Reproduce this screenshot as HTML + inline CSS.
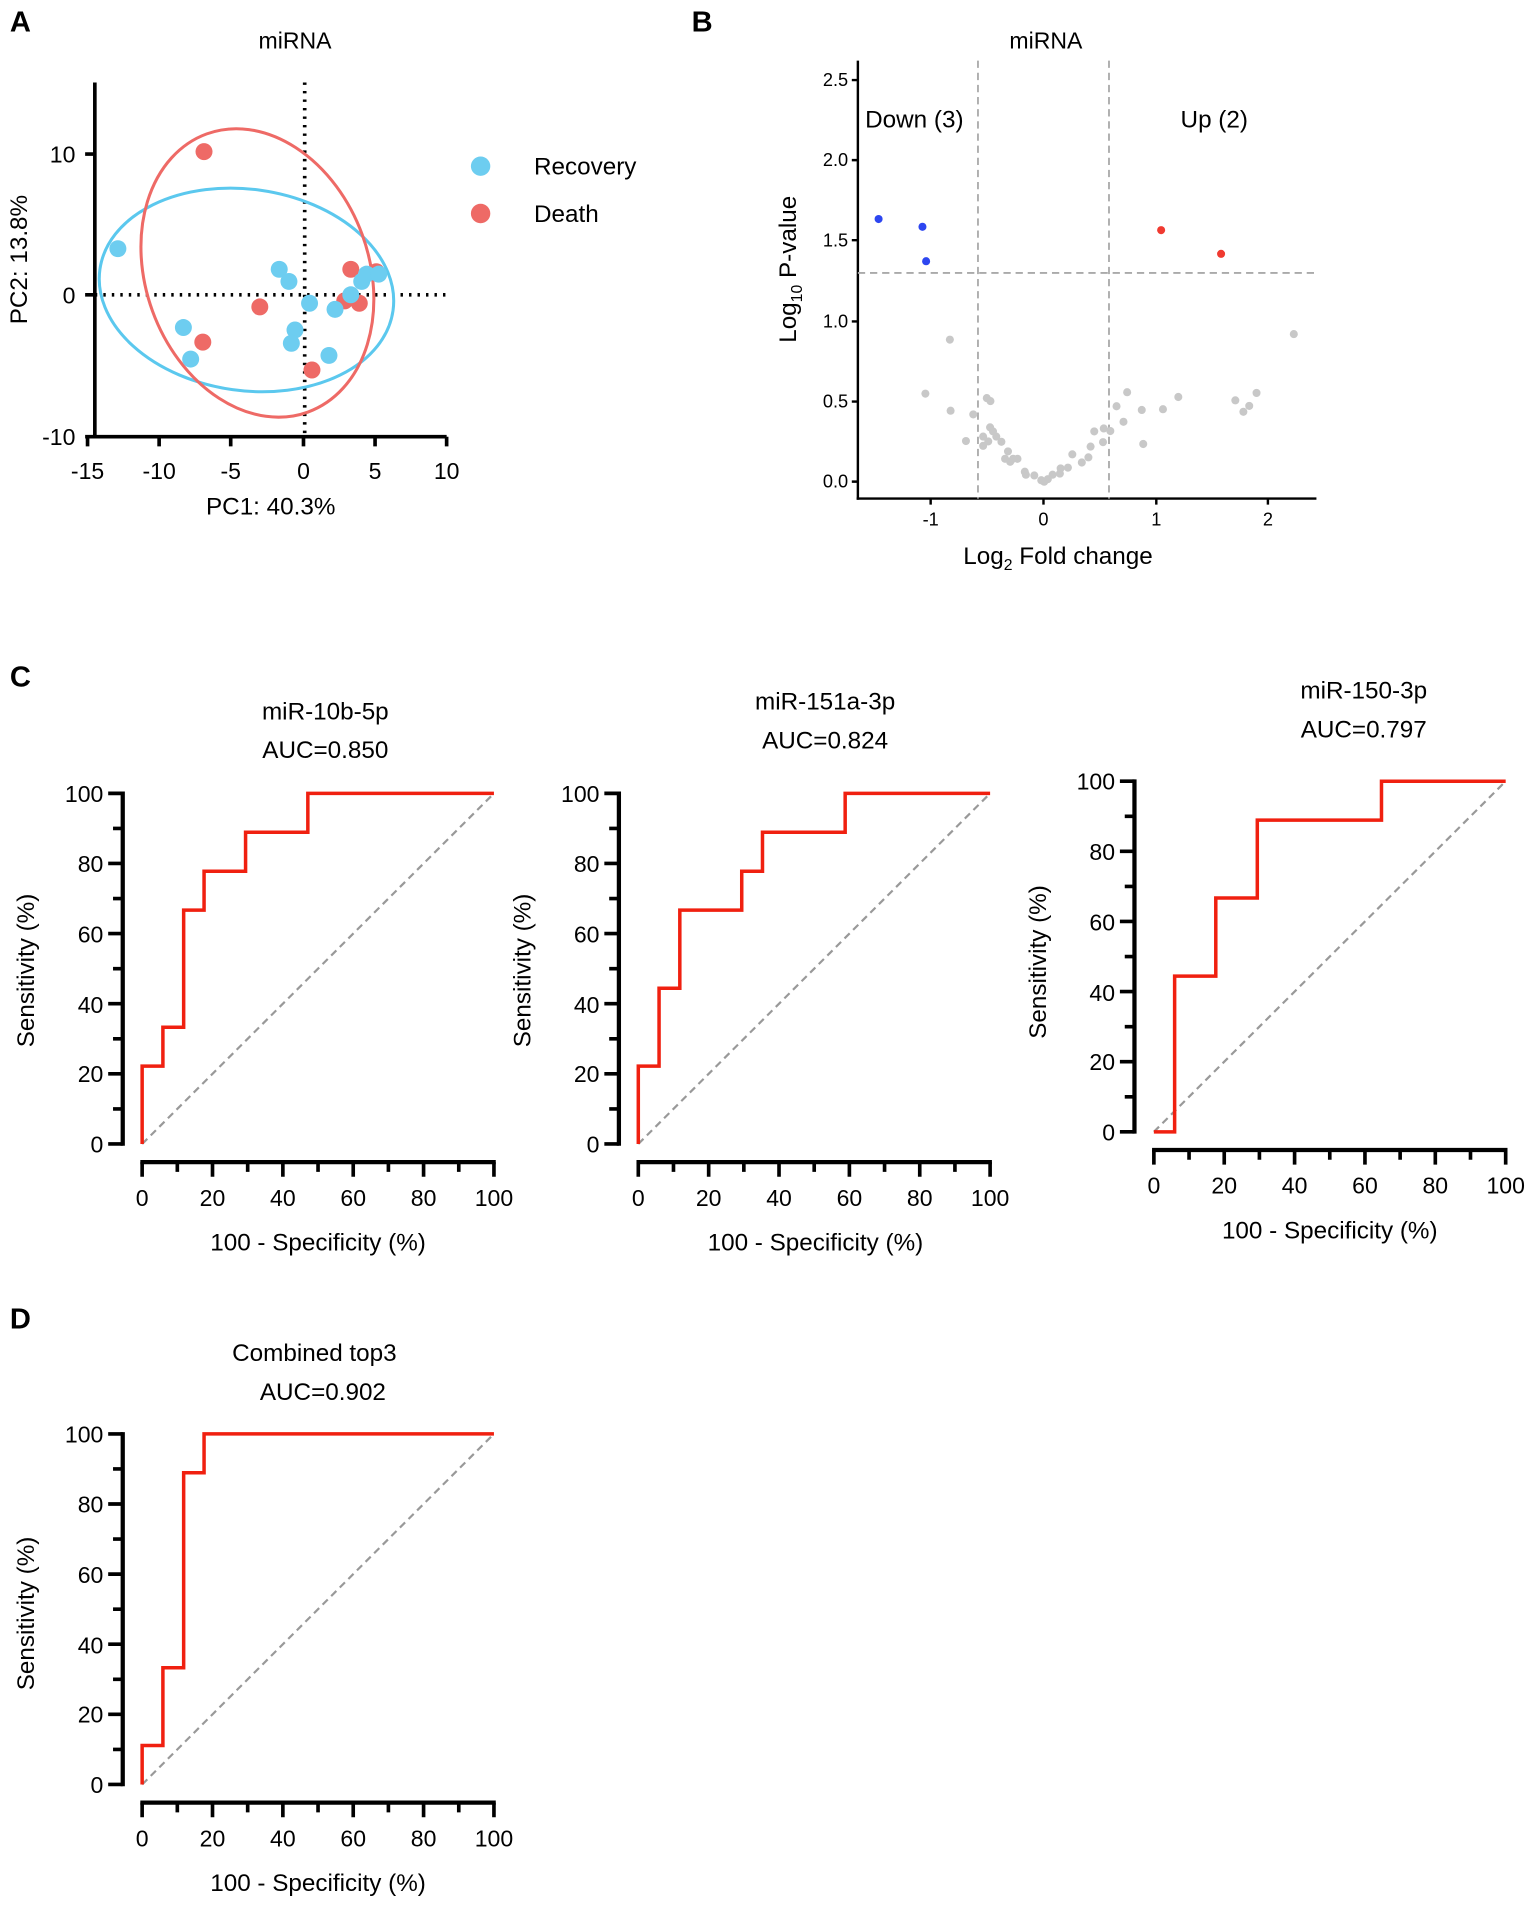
<!DOCTYPE html>
<html><head><meta charset="utf-8"><style>
html,body{margin:0;padding:0;background:#fff}
svg{display:block}
text{font-family:"Liberation Sans",Arial,sans-serif;fill:#000}
</style></head><body>
<svg width="1535" height="1907" viewBox="0 0 1265 1572" xmlns="http://www.w3.org/2000/svg">
<defs>
<g id="ax" stroke="#000" fill="none">
<line x1="-16" y1="1.5" x2="-16" y2="-290.5" stroke-width="3.5"/>
<path stroke-width="3" d="M-28 0H-16M-28 -57.8H-16M-28 -115.6H-16M-28 -173.4H-16M-28 -231.2H-16M-28 -289H-16M-24 -28.9H-16M-24 -86.7H-16M-24 -144.5H-16M-24 -202.3H-16M-24 -260.1H-16"/>
<line x1="-1.5" y1="15" x2="291.5" y2="15" stroke-width="3.5"/>
<path stroke-width="3" d="M0 15V27M58 15V27M116 15V27M174 15V27M232 15V27M290 15V27M29 15V23M87 15V23M145 15V23M203 15V23M261 15V23"/>
<line x1="0" y1="0" x2="290" y2="-289" stroke="#999" stroke-width="1.8" stroke-dasharray="6,4"/>
</g>
</defs>

<text x="8" y="26" font-size="24" font-weight="bold">A</text>
<text x="570" y="26" font-size="24" font-weight="bold">B</text>
<text x="8" y="566" font-size="24" font-weight="bold">C</text>
<text x="8" y="1095" font-size="24" font-weight="bold">D</text>

<!-- Panel A -->
<text x="243" y="40" font-size="19" text-anchor="middle">miRNA</text>
<g stroke="#000" stroke-width="3" fill="none">
<line x1="78" y1="68" x2="78" y2="361"/>
<line x1="76.5" y1="360" x2="368" y2="360"/>
<path d="M70 127H78M70 243H78M70 360H78M72 360V368M131 360V368M190 360V368M250 360V368M309 360V368M368 360V368"/>
</g>
<g stroke="#000" stroke-width="3" stroke-dasharray="2,5" fill="none">
<line x1="251" y1="68" x2="251" y2="360"/>
<line x1="78" y1="243" x2="368" y2="243"/>
</g>
<g font-size="19" text-anchor="end">
<text x="62" y="134">10</text><text x="62" y="250">0</text><text x="62" y="367">-10</text>
</g>
<g font-size="19" text-anchor="middle">
<text x="72" y="395">-15</text><text x="131" y="395">-10</text><text x="190" y="395">-5</text><text x="250" y="395">0</text><text x="309" y="395">5</text><text x="368" y="395">10</text>
</g>
<text x="223" y="424" font-size="20" text-anchor="middle">PC1: 40.3%</text>
<text transform="translate(22,214) rotate(-90)" font-size="20" text-anchor="middle">PC2: 13.8%</text>
<ellipse cx="203" cy="239" rx="122" ry="83" transform="rotate(8 203 239)" fill="none" stroke="#5bc8ee" stroke-width="2.5"/>
<ellipse cx="212" cy="225" rx="92" ry="122" transform="rotate(-20 212 225)" fill="none" stroke="#ee6a66" stroke-width="2.5"/>
<g fill="#ee6a66">
<circle cx="168" cy="125" r="7"/><circle cx="214" cy="253" r="7"/><circle cx="167" cy="282" r="7"/><circle cx="257" cy="305" r="7"/><circle cx="289" cy="222" r="7"/><circle cx="284" cy="248" r="7"/><circle cx="296" cy="250" r="7"/><circle cx="310" cy="224" r="7"/>
</g>
<g fill="#6dcdf0">
<circle cx="97" cy="205" r="7"/><circle cx="151" cy="270" r="7"/><circle cx="157" cy="296" r="7"/><circle cx="230" cy="222" r="7"/><circle cx="238" cy="232" r="7"/><circle cx="243" cy="272" r="7"/><circle cx="240" cy="283" r="7"/><circle cx="255" cy="250" r="7"/><circle cx="271" cy="293" r="7"/><circle cx="276" cy="255" r="7"/><circle cx="289" cy="243" r="7"/><circle cx="298" cy="232" r="7"/><circle cx="302" cy="226" r="7"/><circle cx="312" cy="226" r="7"/>
</g>
<circle cx="396" cy="137" r="8" fill="#6dcdf0"/>
<circle cx="396" cy="176" r="8" fill="#ee6a66"/>
<text x="440" y="144" font-size="20">Recovery</text>
<text x="440" y="183" font-size="20">Death</text>

<!-- Panel B -->
<text x="862" y="40" font-size="19" text-anchor="middle">miRNA</text>
<g stroke="#000" stroke-width="2" fill="none">
<line x1="707" y1="50" x2="707" y2="412"/>
<line x1="706" y1="411" x2="1085" y2="411"/>
<path d="M702 397H707M702 331H707M702 265H707M702 198H707M702 132H707M702 66H707M767 411V416M860 411V416M953 411V416M1045 411V416"/>
</g>
<g font-size="15" text-anchor="end">
<text x="699" y="402" fill="#555">0.0</text><text x="699" y="336" fill="#555">0.5</text><text x="699" y="270" fill="#555">1.0</text><text x="699" y="203" fill="#555">1.5</text><text x="699" y="137" fill="#555">2.0</text><text x="699" y="71" fill="#555">2.5</text>
</g>
<g font-size="15" text-anchor="middle">
<text x="767" y="433" fill="#555">-1</text><text x="860" y="433" fill="#555">0</text><text x="953" y="433" fill="#555">1</text><text x="1045" y="433" fill="#555">2</text>
</g>
<g stroke="#aaa" stroke-width="1.5" stroke-dasharray="6,4" fill="none">
<line x1="806" y1="50" x2="806" y2="411"/>
<line x1="914" y1="50" x2="914" y2="411"/>
<line x1="707" y1="225" x2="1085" y2="225"/>
</g>
<text x="713" y="105" font-size="20">Down (3)</text>
<text x="973" y="105" font-size="20">Up (2)</text>
<text x="872" y="465" font-size="20" text-anchor="middle">Log<tspan font-size="13" dy="5">2</tspan><tspan dy="-5"> Fold change</tspan></text>
<text transform="translate(656,222) rotate(-90)" font-size="20" text-anchor="middle">Log<tspan font-size="13" dy="5">10</tspan><tspan dy="-5"> P-value</tspan></text>
<g transform="matrix(0.3013,0,0,0.305,636.1,0)">
<g fill="#c8c8c8">
<circle cx="487" cy="918" r="11"/><circle cx="420" cy="1064" r="11"/><circle cx="489" cy="1110" r="11"/><circle cx="551" cy="1120" r="11"/><circle cx="531" cy="1192" r="11"/><circle cx="588" cy="1076" r="11"/><circle cx="598" cy="1084" r="11"/><circle cx="578" cy="1180" r="11"/><circle cx="578" cy="1205" r="11"/><circle cx="592" cy="1193" r="11"/><circle cx="597" cy="1155" r="11"/><circle cx="605" cy="1166" r="11"/><circle cx="614" cy="1180" r="11"/><circle cx="628" cy="1194" r="11"/><circle cx="646" cy="1220" r="11"/><circle cx="638" cy="1240" r="11"/><circle cx="652" cy="1248" r="11"/><circle cx="660" cy="1240" r="11"/><circle cx="672" cy="1240" r="11"/><circle cx="692" cy="1275" r="11"/><circle cx="695" cy="1283" r="11"/><circle cx="718" cy="1285" r="11"/><circle cx="737" cy="1298" r="11"/><circle cx="745" cy="1302" r="11"/><circle cx="755" cy="1295" r="11"/><circle cx="768" cy="1283" r="11"/><circle cx="788" cy="1280" r="11"/><circle cx="790" cy="1266" r="11"/><circle cx="810" cy="1264" r="11"/><circle cx="822" cy="1228" r="11"/><circle cx="848" cy="1250" r="11"/><circle cx="866" cy="1236" r="11"/><circle cx="872" cy="1207" r="11"/><circle cx="882" cy="1166" r="11"/><circle cx="906" cy="1195" r="11"/><circle cx="908" cy="1158" r="11"/><circle cx="926" cy="1165" r="11"/><circle cx="943" cy="1098" r="11"/><circle cx="962" cy="1140" r="11"/><circle cx="972" cy="1060" r="11"/><circle cx="1012" cy="1108" r="11"/><circle cx="1016" cy="1200" r="11"/><circle cx="1070" cy="1106" r="11"/><circle cx="1112" cy="1073" r="11"/><circle cx="1268" cy="1082" r="11"/><circle cx="1290" cy="1113" r="11"/><circle cx="1306" cy="1097" r="11"/><circle cx="1326" cy="1062" r="11"/><circle cx="1428" cy="903" r="11"/>
</g>
<g fill="#2d46f0"><circle cx="292" cy="592" r="11"/><circle cx="412" cy="613" r="11"/><circle cx="422" cy="706" r="11"/></g>
<g fill="#f03a30"><circle cx="1065" cy="622" r="11"/><circle cx="1229" cy="686" r="11"/></g>
</g>

<!-- C1 -->
<text x="268" y="593" font-size="20" text-anchor="middle">miR-10b-5p</text>
<text x="268" y="625" font-size="20" text-anchor="middle">AUC=0.850</text>
<use href="#ax" transform="translate(117,943)"/>
<path transform="translate(117,943) scale(2.9,-2.89)" vector-effect="non-scaling-stroke" fill="none" stroke="#f02010" stroke-width="3.5" d="M0 0V22.2H5.9V33.3H11.8V66.7H17.6V77.8H29.4V88.9H47.1V100H100"/>
<g font-size="19" text-anchor="end"><text x="85" y="950">0</text><text x="85" y="892">20</text><text x="85" y="835">40</text><text x="85" y="777">60</text><text x="85" y="719">80</text><text x="85" y="661">100</text></g>
<g font-size="19" text-anchor="middle"><text x="117" y="994">0</text><text x="175" y="994">20</text><text x="233" y="994">40</text><text x="291" y="994">60</text><text x="349" y="994">80</text><text x="407" y="994">100</text></g>
<text x="262" y="1031" font-size="20" text-anchor="middle">100 - Specificity (%)</text>
<text transform="translate(28,800) rotate(-90)" font-size="20" text-anchor="middle">Sensitivity (%)</text>

<!-- C2 -->
<text x="680" y="585" font-size="20" text-anchor="middle">miR-151a-3p</text>
<text x="680" y="617" font-size="20" text-anchor="middle">AUC=0.824</text>
<use href="#ax" transform="translate(526,943)"/>
<path transform="translate(526,943) scale(2.9,-2.89)" vector-effect="non-scaling-stroke" fill="none" stroke="#f02010" stroke-width="3.5" d="M0 0V22.2H5.9V44.4H11.8V66.7H29.4V77.8H35.3V88.9H58.8V100H100"/>
<g font-size="19" text-anchor="end"><text x="494" y="950">0</text><text x="494" y="892">20</text><text x="494" y="835">40</text><text x="494" y="777">60</text><text x="494" y="719">80</text><text x="494" y="661">100</text></g>
<g font-size="19" text-anchor="middle"><text x="526" y="994">0</text><text x="584" y="994">20</text><text x="642" y="994">40</text><text x="700" y="994">60</text><text x="758" y="994">80</text><text x="816" y="994">100</text></g>
<text x="672" y="1031" font-size="20" text-anchor="middle">100 - Specificity (%)</text>
<text transform="translate(437,800) rotate(-90)" font-size="20" text-anchor="middle">Sensitivity (%)</text>

<!-- C3 -->
<text x="1124" y="576" font-size="20" text-anchor="middle">miR-150-3p</text>
<text x="1124" y="608" font-size="20" text-anchor="middle">AUC=0.797</text>
<use href="#ax" transform="translate(951,933)"/>
<path transform="translate(951,933) scale(2.9,-2.89)" vector-effect="non-scaling-stroke" fill="none" stroke="#f02010" stroke-width="3.5" d="M0 0H5.9V44.4H17.6V66.7H29.4V88.9H64.7V100H100"/>
<g font-size="19" text-anchor="end"><text x="919" y="940">0</text><text x="919" y="882">20</text><text x="919" y="825">40</text><text x="919" y="767">60</text><text x="919" y="709">80</text><text x="919" y="651">100</text></g>
<g font-size="19" text-anchor="middle"><text x="951" y="984">0</text><text x="1009" y="984">20</text><text x="1067" y="984">40</text><text x="1125" y="984">60</text><text x="1183" y="984">80</text><text x="1241" y="984">100</text></g>
<text x="1096" y="1021" font-size="20" text-anchor="middle">100 - Specificity (%)</text>
<text transform="translate(862,793) rotate(-90)" font-size="20" text-anchor="middle">Sensitivity (%)</text>

<!-- D -->
<text x="259" y="1122" font-size="20" text-anchor="middle">Combined top3</text>
<text x="266" y="1154" font-size="20" text-anchor="middle">AUC=0.902</text>
<use href="#ax" transform="translate(117,1471)"/>
<path transform="translate(117,1471) scale(2.9,-2.89)" vector-effect="non-scaling-stroke" fill="none" stroke="#f02010" stroke-width="3.5" d="M0 0V11.1H5.9V33.3H11.8V88.9H17.6V100H100"/>
<g font-size="19" text-anchor="end"><text x="85" y="1478">0</text><text x="85" y="1420">20</text><text x="85" y="1363">40</text><text x="85" y="1305">60</text><text x="85" y="1247">80</text><text x="85" y="1189">100</text></g>
<g font-size="19" text-anchor="middle"><text x="117" y="1522">0</text><text x="175" y="1522">20</text><text x="233" y="1522">40</text><text x="291" y="1522">60</text><text x="349" y="1522">80</text><text x="407" y="1522">100</text></g>
<text x="262" y="1559" font-size="20" text-anchor="middle">100 - Specificity (%)</text>
<text transform="translate(28,1330) rotate(-90)" font-size="20" text-anchor="middle">Sensitivity (%)</text>
</svg>
</body></html>
